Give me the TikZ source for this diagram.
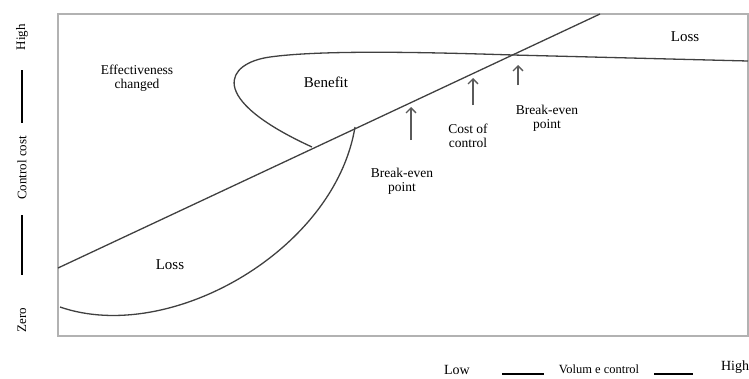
\documentclass[tikz,border=0pt]{standalone}
\usepackage{fontspec}
\setmainfont{Liberation Serif}
\usetikzlibrary{arrows.meta}
\definecolor{curvegray}{RGB}{64,64,64}
\definecolor{framegray}{RGB}{178,178,178}
\definecolor{arrowgray}{RGB}{90,90,90}

\begin{document}
\begin{tikzpicture}[x=1pt, y=-1pt,
  curve/.style={curvegray, line width=1.3pt},
  pointer/.style={arrowgray, line width=1.3pt, -{Straight Barb[length=5pt,width=10pt]}},
  lbl/.style={font=\fontsize{13.5}{14.5}\selectfont, align=center, inner sep=0pt},
  zone/.style={font=\fontsize{15}{17}\selectfont, inner sep=0pt},
  axislbl/.style={font=\fontsize{13}{14}\selectfont, inner sep=0pt},
  axisbar/.style={black, line width=2pt}]
  \useasboundingbox (0,0) rectangle (749,378);
  % frame
  \draw[framegray, line width=2.5pt] (58,14) rectangle (748,336);
  % cost line and curves
  \draw[curve] (58,268) -- (600,14);
  \draw[curve] (748,61) -- (513,55) .. controls (420,52) and (320,50) .. (270,57)
    .. controls (226,63) and (205,98) .. (312,147);
  \draw[curve] (60,307) .. controls (170,345) and (335,250) .. (355,127);
  % labels
  \node[lbl] (effect) at (137,78) {Effectiveness\\changed};
  \node[zone] (benefit) at (326,82) {Benefit};
  \node[zone] (losslow) at (170,265) {Loss};
  \node[zone] (losshigh) at (685,37) {Loss};
  \node[lbl] (breakA) at (402,181) {Break-even\\point};
  \node[lbl] (costctl) at (468,136) {Cost of\\control};
  \node[lbl] (breakB) at (547,118) {Break-even\\point};
  % pointers
  \coordinate (tipA) at (411,107);
  \coordinate (tipC) at (473,78);
  \coordinate (tipB) at (518,65);
  \draw[pointer] (411,140) -- (tipA);
  \draw[pointer] (473,105) -- (tipC);
  \draw[pointer] (518,85) -- (tipB);
  % vertical axis
  \node[axislbl, rotate=90] (yhigh) at (22,37) {High};
  \node[axislbl, rotate=90] (ycost) at (22,168) {Control cost};
  \node[axislbl, rotate=90] (yzero) at (22,320) {Zero};
  \draw[axisbar] (22,70) -- (22,123);
  \draw[axisbar] (22,215) -- (22,275);
  % horizontal axis
  \node[axislbl, font=\fontsize{14}{15}\selectfont] (xlow) at (457,370) {Low};
  \node[axislbl, font=\fontsize{12.5}{14}\selectfont] (xvol) at (599,369) {Volum e control};
  \node[axislbl, font=\fontsize{14}{15}\selectfont] (xhigh) at (735,367) {High};
  \draw[axisbar] (502,374) -- (544,374);
  \draw[axisbar] (654,374) -- (693,374);
\end{tikzpicture}
\end{document}
